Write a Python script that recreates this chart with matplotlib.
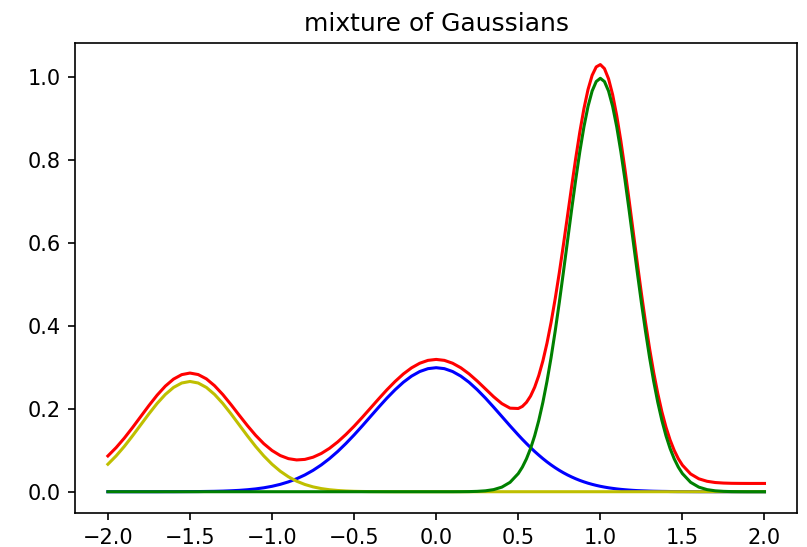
import numpy as np
import matplotlib
matplotlib.use("Agg")
import matplotlib.pyplot as plt

# coarse sample grid, step 0.05 from -2 to 2
x = np.linspace(-2.0, 2.0, 81)
# extra half-step samples around the sharp peak (0.525 .. 1.475)
x_fine = np.linspace(0.525, 1.475, 20)

# component curves
yellow = [0.0663, 0.0863, 0.1093, 0.1347, 0.1613, 0.1879, 0.2130, 0.2347, 0.2516, 0.2623,
          0.2660, 0.2623, 0.2516, 0.2347, 0.2130, 0.1879, 0.1613, 0.1347, 0.1093, 0.0863,
          0.0663, 0.0495, 0.0360, 0.0254, 0.0175, 0.0117, 0.0076, 0.0048, 0.0030, 0.0018,
          0.0010, 0.0006, 0.0003, 0.0002, 0.0001] + [0.0] * 46
blue = [0.0] * 6 + [0.0000, 0.0001, 0.0001, 0.0002, 0.0003, 0.0004, 0.0007, 0.0010, 0.0015,
                    0.0023, 0.0033, 0.0048, 0.0068, 0.0095, 0.0131, 0.0178, 0.0238, 0.0313,
                    0.0405, 0.0516, 0.0647, 0.0799, 0.0971, 0.1163, 0.1370, 0.1589, 0.1815,
                    0.2040, 0.2259, 0.2461, 0.2641, 0.2789, 0.2900, 0.2969,
                    0.2992,
                    0.2969, 0.2900, 0.2789, 0.2641, 0.2461, 0.2259, 0.2040, 0.1815, 0.1589,
                    0.1370, 0.1163, 0.0971, 0.0799, 0.0647, 0.0516, 0.0405, 0.0313, 0.0238,
                    0.0178, 0.0131, 0.0095, 0.0068, 0.0048, 0.0033, 0.0023, 0.0015, 0.0010,
                    0.0007, 0.0004, 0.0003, 0.0002, 0.0001, 0.0001, 0.0000] + [0.0] * 6
green = [0.0] * 43 + [0.0001, 0.0003, 0.0009, 0.0022, 0.0051, 0.0111, 0.0227, 0.0438, 0.0794,
                      0.1350, 0.2157, 0.3238, 0.4566, 0.6049, 0.7529, 0.8802, 0.9667,
                      0.9974,
                      0.9667, 0.8802, 0.7529, 0.6049, 0.4566, 0.3238, 0.2157, 0.1350, 0.0794,
                      0.0438, 0.0227, 0.0111, 0.0051, 0.0022, 0.0009, 0.0003, 0.0001] + [0.0] * 3
# mixture curve
red = [0.0863, 0.1063, 0.1293, 0.1547, 0.1813, 0.2079, 0.2330, 0.2548, 0.2717, 0.2825,
       0.2863, 0.2827, 0.2723, 0.2557, 0.2345, 0.2102, 0.1846, 0.1595, 0.1361, 0.1158,
       0.0994, 0.0873, 0.0798, 0.0767, 0.0780, 0.0833, 0.0923, 0.1047, 0.1201, 0.1381,
       0.1580, 0.1795, 0.2018, 0.2242, 0.2460, 0.2661, 0.2841, 0.2989, 0.3100, 0.3169,
       0.3192, 0.3169, 0.3100, 0.2990, 0.2844, 0.2670, 0.2481, 0.2291, 0.2126, 0.2016,
       0.2008, 0.2157, 0.2521, 0.3156, 0.4085, 0.5282, 0.6654, 0.8042, 0.9240, 1.0045,
       1.0305, 0.9962, 0.9070, 0.7777, 0.6282, 0.4789, 0.3453, 0.2367, 0.1557, 0.0998,
       0.0641, 0.0429, 0.0312, 0.0252, 0.0222, 0.0209, 0.0203, 0.0201, 0.0200, 0.0200,
       0.0200]

# half-step values on x_fine
yellow_fine = [0.0] * 20
blue_fine = [0.1264, 0.1065, 0.0883, 0.0720, 0.0579, 0.0458, 0.0357, 0.0273, 0.0206, 0.0153,
             0.0112, 0.0081, 0.0057, 0.0040, 0.0027, 0.0019, 0.0012, 0.0008, 0.0005, 0.0003]
green_fine = [0.0594, 0.1043, 0.1720, 0.2664, 0.3876, 0.5297, 0.6802, 0.8204, 0.9297, 0.9896,
              0.9896, 0.9297, 0.8204, 0.6802, 0.5297, 0.3876, 0.2664, 0.1720, 0.1043, 0.0594]
red_fine = [0.2058, 0.2308, 0.2803, 0.3584, 0.4655, 0.5955, 0.7359, 0.8677, 0.9703, 1.0249,
            1.0208, 0.9578, 0.8461, 0.7042, 0.5524, 0.4095, 0.2876, 0.1928, 0.1248, 0.0797]


def merged(coarse, fine):
    xs = np.concatenate([x, x_fine])
    ys = np.concatenate([coarse, fine])
    order = np.argsort(xs)
    return xs[order], ys[order]


fig = plt.figure(figsize=(8.07, 5.47), dpi=100)
ax = fig.add_axes([0.093, 0.062, 0.895, 0.859])
for coarse, fine, col in [(red, red_fine, "r"), (blue, blue_fine, "b"),
                          (yellow, yellow_fine, "y"), (green, green_fine, "g")]:
    xs, ys = merged(coarse, fine)
    ax.plot(xs, ys, color=col, lw=2.2)
ax.set_title("mixture of Gaussians", fontsize=18, pad=9)
ax.tick_params(labelsize=15, length=5.2, width=1.2, pad=5.2)
for s in ax.spines.values():
    s.set_linewidth(1.2)
fig.savefig("out.png", dpi=100, facecolor="white")
